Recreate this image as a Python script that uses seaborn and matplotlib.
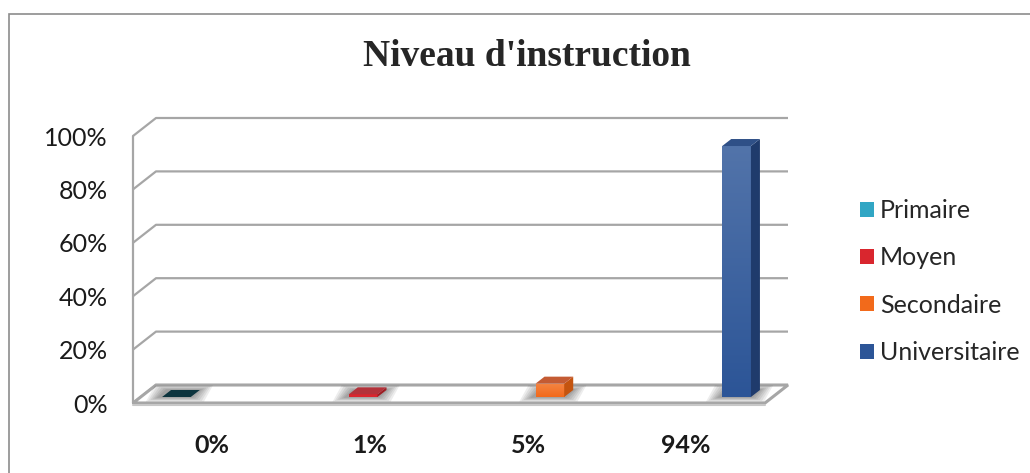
import numpy as np
import pandas as pd
import matplotlib
matplotlib.use('Agg')
import matplotlib.pyplot as plt
import seaborn as sns
from matplotlib.patches import Polygon, Rectangle
from matplotlib.colors import to_rgb

# ---- data ----
categories = ['0%', '1%', '5%', '94%']
series = ['Primaire', 'Moyen', 'Secondaire', 'Universitaire']
values = [0.0, 0.01, 0.05, 0.94]
yticks = [0, 0.2, 0.4, 0.6, 0.8, 1.0]
ytick_labels = ['0%', '20%', '40%', '60%', '80%', '100%']
title = "Niveau d'instruction"

# ---- style ----
front_colors = {'Primaire': '#31a6c4', 'Moyen': '#d9262e',
                'Secondaire': '#f26a1b', 'Universitaire': '#2c5597'}
top_colors = {'Primaire': '#0c343e', 'Moyen': '#b3323a',
              'Secondaire': '#c45b33', 'Universitaire': '#2f5087'}
side_colors = {'Primaire': '#1d6f83', 'Moyen': '#9e1c22',
               'Secondaire': '#c4540f', 'Universitaire': '#1f3b6c'}
grid_color = '#a6a6a6'

df = pd.DataFrame({'cat': categories, 'serie': series, 'val': values})

sns.set_theme(style='white')
plt.rcParams['font.family'] = ['Lato', 'DejaVu Sans']

W, H = 1030, 473
fig = plt.figure(figsize=(W / 100, H / 100), dpi=100)
fig.patch.set_facecolor('white')
ax = fig.add_axes([133 / W, 1 - 403 / H, 632 / W, 267 / H])
ax.set_facecolor('none')

sns.barplot(data=df, x='cat', y='val', hue='serie', order=categories,
            hue_order=series, palette=front_colors, width=0.727, dodge=True,
            saturation=1, linewidth=0, ax=ax, zorder=3)

bars = [p for p in ax.patches if isinstance(p, Rectangle)
        and np.isfinite(p.get_height()) and np.isfinite(p.get_x())
        and p.get_width() > 0]
bars = sorted(bars, key=lambda p: p.get_x())
n_hue = len(series)
slot = 0.727 / n_hue

ax.set_xlim(-0.5, len(categories) - 0.5)
ax.set_ylim(0, 1)
for s in ax.spines.values():
    s.set_visible(False)

# pixel -> data conversions
px = (len(categories)) / (632.0)
py = 1.0 / 267.0
bx, by = 23 * px, 18 * py      # wall depth
fx, fy = 7.5 * px, 6 * py      # bar front offset into depth
dx, dy = 9 * px, 7 * py        # bar depth

x_lo, x_hi = -0.5, len(categories) - 0.5

# floor
floor = Polygon([(x_lo, 0), (x_hi, 0), (x_hi + bx, by), (x_lo + bx, by)],
                closed=True, facecolor='white', edgecolor=grid_color,
                lw=2.2, clip_on=False, zorder=1)
ax.add_patch(floor)
ax.plot([x_lo, x_hi], [-1.5 * py, -1.5 * py], color='#c8c8c8', lw=1.5,
        clip_on=False, zorder=1)

# walls / gridlines
for v in yticks[1:]:
    ax.plot([x_lo, x_lo + bx, x_hi + bx], [v, v + by, v + by], color=grid_color,
            lw=1.6, clip_on=False, zorder=0.5, solid_capstyle='butt')
ax.plot([x_lo, x_lo], [0, 1], color=grid_color, lw=1.6, clip_on=False, zorder=0.5)
ax.plot([x_lo, x_lo + bx], [0, by], color=grid_color, lw=1.6, clip_on=False, zorder=0.5)

# 3D bars
for p in bars:
    x0, w, h = p.get_x(), p.get_width(), p.get_height()
    center = x0 + w / 2
    cat_i = int(round(center))
    hue_i = int(round((center - cat_i) / slot + (n_hue - 1) / 2))
    s = series[hue_i]
    x0 = x0 + fx
    p.set_x(x0)
    p.set_y(fy)
    # soft shadow on the floor
    for k in range(6):
        e = (6 - k) * 2.2
        ex, ey = e * px, e * 0.35 * py
        sh = Polygon([(x0 - ex - 3 * px, fy - ey), (x0 + w + ex, fy - ey),
                      (x0 + w + dx + ex, fy + dy + ey), (x0 + dx - ex - 3 * px, fy + dy + ey)],
                     closed=True, facecolor='black', edgecolor='none', alpha=0.07,
                     zorder=2, clip_on=False)
        ax.add_patch(sh)
    # vertical gradient on the front face (lighter at top)
    if h > 0.02:
        base = np.array(to_rgb(front_colors[s]))
        light = base + (1 - base) * 0.18
        t = np.linspace(0, 1, 64)[:, None]
        grad = (base[None, :] * (1 - t) + light[None, :] * t)[:, None, :]
        im = ax.imshow(grad, extent=(x0, x0 + w, fy, fy + h), origin='lower',
                       aspect='auto', zorder=3.05, interpolation='bilinear')
        im.set_clip_path(p)
    top = Polygon([(x0, fy + h), (x0 + w, fy + h), (x0 + w + dx, fy + h + dy),
                   (x0 + dx, fy + h + dy)], closed=True, facecolor=top_colors[s],
                  edgecolor='none', zorder=3.2, clip_on=False)
    side = Polygon([(x0 + w, fy), (x0 + w + dx, fy + dy), (x0 + w + dx, fy + h + dy),
                    (x0 + w, fy + h)], closed=True, facecolor=side_colors[s],
                   edgecolor='none', zorder=3.1, clip_on=False)
    ax.add_patch(side)
    ax.add_patch(top)

ax.set_xlim(-0.5, len(categories) - 0.5)
ax.set_ylim(0, 1)

# ticks
ax.set_yticks(yticks, ytick_labels)
ax.tick_params(axis='y', length=0, pad=18, labelsize=18, labelcolor='#1a1a1a')
ax.tick_params(axis='x', length=0, pad=22, labelsize=18, labelcolor='#1a1a1a')
for t in ax.get_xticklabels():
    t.set_fontweight('bold')
ax.set_xlabel('')
ax.set_ylabel('')

# legend
handles, labels = ax.get_legend_handles_labels()
if ax.get_legend() is not None:
    ax.get_legend().remove()
fig.legend(handles, labels, loc='center left', bbox_to_anchor=(860 / W, 1 - 281.5 / H),
           frameon=False, fontsize=18, handlelength=0.55, handleheight=0.55,
           handletextpad=0.25, labelspacing=0.97, borderaxespad=0, borderpad=0)

# title
fig.text(527 / W, 1 - 57 / H, title, ha='center', va='center', fontsize=27,
         fontweight='bold', family=['Liberation Serif', 'DejaVu Serif'])

# outer frame
fig.add_artist(Rectangle((9 / W, -0.1), 1.2, 1 - 14 / H + 0.1, transform=fig.transFigure,
                         fill=False, edgecolor='#8c8c8c', lw=1.2))

fig.savefig('out.png', dpi=100, facecolor='white')
